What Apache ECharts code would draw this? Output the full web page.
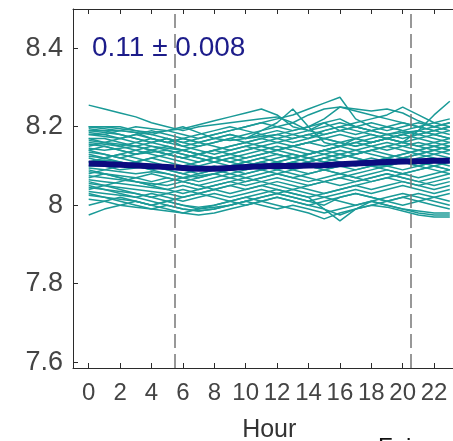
<!DOCTYPE html>
<html>
<head>
<meta charset="utf-8">
<script src="https://cdn.jsdelivr.net/npm/echarts@6/dist/echarts.min.js"></script>
<style>
  html, body { margin: 0; padding: 0; background: #fff; }
  #main { width: 453px; height: 441px; }
</style>
</head>
<body>
<div id="main"></div>
<script>
const hours = [0,1,2,3,4,5,6,7,8,9,10,11,12,13,14,15,16,17,18,19,20,21,22,23];
const xTicks = [0,2,4,6,8,10,12,14,16,18,20,22];
const yTicks = [7.6,7.8,8,8.2,8.4];
const dashedHours = [5.5, 20.5];
const meanLabel = '0.11 \u00b1 0.008';

// pH per individual day (hourly)
const days = [
  [8.255,8.245,8.235,8.225,8.21,8.20,8.19,8.20,8.205,8.21,8.215,8.22,8.225,8.21,8.19,8.18,8.19,8.2,8.19,8.18,8.185,8.19,8.18,8.19],
  [8.20,8.20,8.195,8.19,8.185,8.19,8.195,8.205,8.215,8.225,8.235,8.245,8.23,8.2,8.19,8.21,8.22,8.2,8.19,8.2,8.21,8.2,8.19,8.2],
  [8.19,8.19,8.18,8.17,8.16,8.17,8.16,8.17,8.18,8.19,8.2,8.21,8.22,8.23,8.245,8.26,8.275,8.22,8.2,8.19,8.2,8.21,8.2,8.21],
  [8.18,8.18,8.17,8.18,8.17,8.16,8.17,8.16,8.17,8.18,8.17,8.19,8.21,8.245,8.2,8.16,8.15,8.17,8.16,8.17,8.16,8.17,8.18,8.17],
  [8.17,8.17,8.16,8.15,8.16,8.17,8.16,8.15,8.16,8.17,8.18,8.19,8.2,8.21,8.23,8.245,8.25,8.245,8.24,8.245,8.235,8.215,8.2,8.21],
  [8.14,8.15,8.14,8.13,8.14,8.13,8.12,8.13,8.14,8.13,8.14,8.15,8.14,8.15,8.16,8.15,8.16,8.17,8.18,8.17,8.16,8.19,8.23,8.265],
  [8.2,8.2,8.2,8.19,8.18,8.17,8.15,8.16,8.17,8.18,8.17,8.18,8.19,8.18,8.17,8.19,8.2,8.21,8.22,8.23,8.25,8.23,8.21,8.2],
  [8.195,8.19,8.19,8.185,8.18,8.19,8.2,8.185,8.17,8.165,8.17,8.175,8.18,8.19,8.2,8.21,8.19,8.18,8.19,8.2,8.19,8.18,8.19,8.2],
  [8.18,8.175,8.17,8.16,8.15,8.145,8.14,8.15,8.16,8.17,8.16,8.17,8.18,8.17,8.18,8.19,8.2,8.19,8.18,8.17,8.18,8.19,8.18,8.17],
  [8.165,8.16,8.155,8.15,8.14,8.13,8.12,8.13,8.14,8.15,8.16,8.15,8.14,8.15,8.16,8.17,8.16,8.15,8.16,8.17,8.16,8.15,8.16,8.15],
  [8.155,8.15,8.14,8.13,8.135,8.14,8.13,8.12,8.11,8.12,8.13,8.14,8.15,8.14,8.13,8.14,8.15,8.16,8.15,8.14,8.15,8.16,8.15,8.14],
  [8.145,8.14,8.145,8.15,8.14,8.13,8.12,8.11,8.12,8.13,8.12,8.13,8.14,8.13,8.12,8.13,8.14,8.13,8.14,8.15,8.14,8.13,8.14,8.15],
  [8.135,8.13,8.12,8.11,8.12,8.11,8.10,8.11,8.12,8.11,8.10,8.11,8.12,8.13,8.12,8.11,8.12,8.13,8.14,8.13,8.12,8.13,8.14,8.13],
  [8.125,8.12,8.13,8.12,8.11,8.10,8.09,8.10,8.11,8.12,8.11,8.12,8.11,8.10,8.11,8.12,8.13,8.12,8.11,8.12,8.13,8.14,8.13,8.12],
  [8.12,8.11,8.10,8.11,8.10,8.09,8.08,8.09,8.10,8.09,8.10,8.11,8.10,8.11,8.12,8.11,8.10,8.11,8.12,8.11,8.12,8.13,8.12,8.11],
  [8.11,8.115,8.11,8.10,8.09,8.10,8.09,8.08,8.09,8.10,8.11,8.10,8.09,8.10,8.11,8.12,8.11,8.10,8.11,8.12,8.11,8.10,8.11,8.12],
  [8.10,8.10,8.09,8.095,8.10,8.09,8.08,8.07,8.08,8.09,8.10,8.09,8.10,8.11,8.10,8.09,8.10,8.11,8.10,8.11,8.12,8.11,8.10,8.11],
  [8.095,8.09,8.085,8.08,8.085,8.08,8.07,8.075,8.08,8.09,8.08,8.09,8.10,8.09,8.08,8.09,8.10,8.09,8.10,8.10,8.09,8.10,8.11,8.10],
  [8.085,8.08,8.075,8.07,8.06,8.07,8.06,8.07,8.08,8.07,8.08,8.09,8.08,8.07,8.08,8.09,8.08,8.09,8.10,8.09,8.08,8.09,8.10,8.09],
  [8.075,8.07,8.065,8.06,8.055,8.05,8.06,8.05,8.06,8.07,8.06,8.07,8.08,8.07,8.06,8.07,8.08,8.07,8.08,8.09,8.08,8.07,8.08,8.09],
  [8.065,8.06,8.055,8.05,8.045,8.04,8.05,8.04,8.05,8.06,8.05,8.06,8.07,8.06,8.05,8.06,8.07,8.06,8.07,8.08,8.07,8.06,8.07,8.08],
  [8.055,8.05,8.045,8.04,8.035,8.03,8.04,8.03,8.04,8.05,8.04,8.05,8.06,8.05,8.04,8.03,8.04,8.05,8.06,8.07,8.06,8.05,8.06,8.07],
  [8.045,8.04,8.035,8.03,8.02,8.03,8.02,8.03,8.04,8.03,8.04,8.05,8.04,8.03,8.02,8.03,8.04,8.05,8.04,8.05,8.06,8.05,8.04,8.05],
  [8.035,8.03,8.025,8.02,8.03,8.02,8.01,8.02,8.03,8.02,8.03,8.04,8.03,8.02,8.01,8.02,8.03,8.04,8.03,8.04,8.05,8.04,8.03,8.04],
  [8.025,8.02,8.015,8.01,8.00,8.01,8.00,7.995,8.00,8.01,8.02,8.01,8.02,8.01,8.00,8.01,8.02,8.03,8.02,8.01,8.02,8.03,8.02,8.01],
  [8.015,8.01,8.00,7.995,7.99,8.00,7.99,7.985,7.99,8.00,8.01,8.00,7.99,8.00,7.99,7.98,7.99,8.00,8.01,8.00,7.99,7.985,7.98,7.98],
  [7.975,7.99,8.00,8.01,8.00,7.99,7.98,7.975,7.98,7.99,8.00,8.01,8.00,7.99,7.98,7.965,7.98,7.99,8.00,7.995,7.985,7.975,7.97,7.97],
  [8.06,8.05,8.04,8.03,8.02,8.01,8.00,7.99,7.995,8.00,8.01,8.02,8.03,8.02,8.01,8.00,8.02,8.03,8.02,8.01,8.00,8.01,8.02,8.03],
  [8.08,8.09,8.10,8.11,8.12,8.13,8.14,8.13,8.12,8.11,8.12,8.13,8.14,8.15,8.14,8.13,8.12,8.13,8.14,8.15,8.16,8.15,8.14,8.15],
  [8.13,8.12,8.11,8.10,8.09,8.08,8.07,8.06,8.07,8.08,8.09,8.10,8.11,8.12,8.13,8.14,8.13,8.12,8.11,8.10,8.11,8.12,8.13,8.14],
  [8.19,8.185,8.18,8.17,8.16,8.15,8.14,8.13,8.12,8.13,8.14,8.15,8.16,8.17,8.18,8.17,8.16,8.15,8.16,8.17,8.18,8.19,8.2,8.19],
  [8.04,8.05,8.06,8.07,8.08,8.07,8.06,8.05,8.04,8.05,8.06,8.07,8.08,8.09,8.10,8.09,8.08,8.07,8.06,8.07,8.08,8.09,8.10,8.09],
  [8.17,8.16,8.15,8.14,8.13,8.12,8.11,8.10,8.09,8.10,8.11,8.12,8.13,8.12,8.11,8.12,8.13,8.14,8.15,8.16,8.15,8.14,8.15,8.16],
  [8.00,8.01,8.02,8.01,8.00,8.01,8.02,8.03,8.02,8.01,8.02,8.03,8.04,8.03,8.02,7.99,7.96,7.99,8.01,8.02,8.03,8.02,8.01,8.00],
  [8.09,8.08,8.07,8.06,8.05,8.04,8.03,8.04,8.05,8.06,8.07,8.08,8.09,8.08,8.07,8.06,8.05,8.06,8.07,8.08,8.07,8.06,8.05,8.06],
  [8.15,8.16,8.17,8.18,8.19,8.18,8.17,8.16,8.15,8.14,8.15,8.16,8.17,8.18,8.19,8.20,8.21,8.2,8.19,8.18,8.17,8.18,8.19,8.2],
  [8.2,8.195,8.19,8.185,8.17,8.16,8.17,8.18,8.19,8.2,8.19,8.18,8.17,8.16,8.17,8.18,8.19,8.2,8.21,8.2,8.19,8.2,8.21,8.22],
  [8.16,8.155,8.15,8.16,8.17,8.16,8.15,8.14,8.13,8.14,8.15,8.14,8.13,8.12,8.13,8.14,8.15,8.16,8.17,8.18,8.19,8.18,8.17,8.16],
  [8.05,8.04,8.03,8.02,8.01,8.00,7.99,7.985,7.99,8.00,8.01,8.02,8.03,8.04,8.03,8.02,8.01,8.00,8.01,8.00,7.99,7.98,7.975,7.975],
  [8.11,8.12,8.13,8.14,8.15,8.14,8.13,8.12,8.11,8.10,8.09,8.10,8.11,8.12,8.13,8.14,8.15,8.14,8.13,8.12,8.13,8.14,8.15,8.14],
  [8.185,8.18,8.19,8.2,8.195,8.19,8.18,8.17,8.18,8.19,8.2,8.21,8.2,8.19,8.2,8.22,8.25,8.24,8.23,8.22,8.21,8.2,8.19,8.18],
  [8.07,8.08,8.07,8.06,8.05,8.06,8.07,8.08,8.09,8.08,8.07,8.06,8.05,8.04,8.05,8.06,8.07,8.08,8.09,8.10,8.11,8.10,8.09,8.08],
  [8.14,8.13,8.12,8.13,8.14,8.15,8.14,8.13,8.14,8.15,8.16,8.17,8.16,8.15,8.16,8.17,8.18,8.17,8.16,8.17,8.18,8.17,8.16,8.17],
  [8.03,8.02,8.01,8.00,7.99,7.985,7.98,7.99,8.00,8.01,8.00,8.01,8.02,8.01,8.00,7.99,7.975,7.99,8.00,8.01,8.02,8.01,8.00,7.99]
];

const meanPH = [8.106,8.105,8.103,8.101,8.099,8.097,8.095,8.093,8.093,8.095,8.097,8.099,8.100,8.100,8.101,8.102,8.104,8.106,8.108,8.110,8.111,8.112,8.113,8.113];

const chart = echarts.init(document.getElementById('main'));
const font = 'Liberation Sans, Arial, sans-serif';
const axisCol = '#2b2b2b';

const series = days.map((d, i) => ({
  name: 'day' + i,
  type: 'line',
  data: d.map((v, j) => [hours[j], v]),
  symbol: 'none',
  silent: true,
  lineStyle: { color: '#1a9a97', width: 1.5 },
  z: 2
}));

series.push({
  name: 'mean',
  type: 'line',
  data: meanPH.map((v, j) => [hours[j], v]),
  symbol: 'none',
  silent: true,
  lineStyle: { color: '#0b0b80', width: 6 },
  z: 4
});

series.push({
  name: 'light',
  type: 'line',
  data: [],
  silent: true,
  z: 5,
  markLine: {
    symbol: 'none',
    silent: true,
    label: { show: false },
    lineStyle: { color: '#777', width: 1.5, type: [14, 6] },
    data: dashedHours.map(h => ({ xAxis: h }))
  }
});

chart.setOption({
  animation: false,
  backgroundColor: '#fff',
  grid: { left: 73, top: 9, right: -12.5, bottom: 73, outerBoundsMode: 'none', containLabel: false },
  xAxis: [{
    type: 'value',
    min: -1,
    max: 24,
    name: 'Hour',
    nameLocation: 'middle',
    nameGap: 50,
    nameTextStyle: { fontSize: 25, color: '#333', fontFamily: font },
    axisLine: { onZero: false, lineStyle: { color: axisCol, width: 1 } },
    axisTick: { inside: true, length: 5, customValues: xTicks, lineStyle: { color: axisCol } },
    axisLabel: { customValues: xTicks, fontSize: 24, color: '#444', margin: 13, fontFamily: font },
    splitLine: { show: false }
  }, {
    type: 'value',
    position: 'top',
    min: -1,
    max: 24,
    axisLine: { show: true, onZero: false, lineStyle: { color: axisCol, width: 1 } },
    axisTick: { inside: true, length: 5, customValues: xTicks, lineStyle: { color: axisCol } },
    axisLabel: { show: false },
    splitLine: { show: false }
  }],
  yAxis: {
    type: 'value',
    min: 7.585,
    max: 8.5,
    axisLine: { show: true, onZero: false, lineStyle: { color: axisCol, width: 1 } },
    axisTick: { inside: true, length: 5, customValues: yTicks, lineStyle: { color: axisCol } },
    axisLabel: { customValues: yTicks, fontSize: 27, color: '#444', margin: 10, fontFamily: font },
    splitLine: { show: false }
  },
  graphic: [{
    type: 'text',
    left: 92,
    top: 34,
    z: 10,
    style: { text: meanLabel, fontSize: 28, fill: '#1c1c8a', fontFamily: font }
  }, {
    type: 'text',
    left: 378,
    top: 436,
    style: { text: 'Fair', fontSize: 24, fill: '#111', fontFamily: font }
  }],
  series: series
});
</script>
</body>
</html>
